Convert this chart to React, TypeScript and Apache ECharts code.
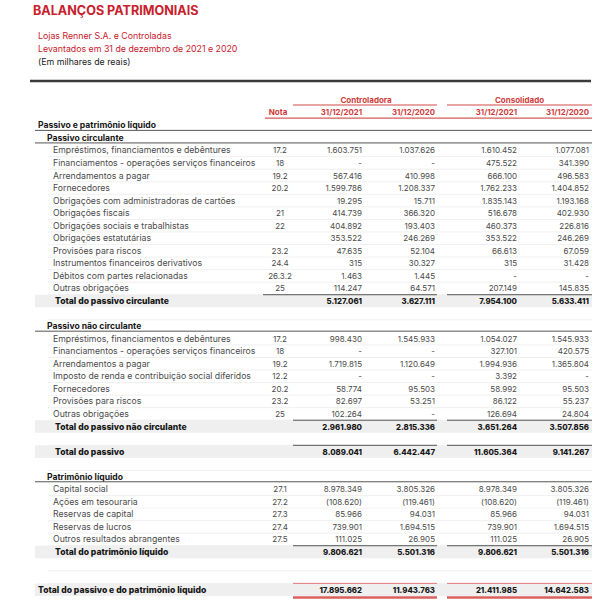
import React, { useEffect, useRef } from "react";
import * as echarts from "echarts";

// ---------- texts ----------
const title = "BALANÇOS PATRIMONIAIS";
const subtitleLines = ["Lojas Renner S.A. e Controladas", "Levantados em 31 de dezembro de 2021 e 2020"];
const unitNote = "(Em milhares de reais)";
const groupHeaders = ["Controladora", "Consolidado"];
const notaHeader = "Nota";
const dateHeaders = ["31/12/2021", "31/12/2020", "31/12/2021", "31/12/2020"];
const sectionTitle = "Passivo e patrimônio líquido";

// ---------- Passivo circulante ----------
const pcTitle = "Passivo circulante";
const pcLabels = [
  "Empréstimos, financiamentos e debêntures",
  "Financiamentos - operações serviços financeiros",
  "Arrendamentos a pagar",
  "Fornecedores",
  "Obrigações com administradoras de cartões",
  "Obrigações fiscais",
  "Obrigações sociais e trabalhistas",
  "Obrigações estatutárias",
  "Provisões para riscos",
  "Instrumentos financeiros derivativos",
  "Débitos com partes relacionadas",
  "Outras obrigações",
];
const pcNotas = ["17.2", "18", "19.2", "20.2", "", "21", "22", "", "23.2", "24.4", "26.3.2", "25"];
const pcCtrl2021 = [1603751, null, 567416, 1599786, 19295, 414739, 404892, 353522, 47635, 315, 1463, 114247];
const pcCtrl2020 = [1037626, null, 410998, 1208337, 15711, 366320, 193403, 246269, 52104, 30327, 1445, 64571];
const pcCons2021 = [1610452, 475522, 666100, 1762233, 1835143, 516678, 460373, 353522, 66613, 315, null, 207149];
const pcCons2020 = [1077081, 341390, 496583, 1404852, 1193168, 402930, 226816, 246269, 67059, 31428, null, 145835];
const pcTotalLabel = "Total do passivo circulante";
const pcTotal = [5127061, 3627111, 7954100, 5633411];

// ---------- Passivo não circulante ----------
const pncTitle = "Passivo não circulante";
const pncLabels = [
  "Empréstimos, financiamentos e debêntures",
  "Financiamentos - operações serviços financeiros",
  "Arrendamentos a pagar",
  "Imposto de renda e contribuição social diferidos",
  "Fornecedores",
  "Provisões para riscos",
  "Outras obrigações",
];
const pncNotas = ["17.2", "18", "19.2", "12.2", "20.2", "23.2", "25"];
const pncCtrl2021 = [998430, null, 1719815, null, 58774, 82697, 102264];
const pncCtrl2020 = [1545933, null, 1120649, null, 95503, 53251, null];
const pncCons2021 = [1054027, 327101, 1994936, 3392, 58992, 86122, 126694];
const pncCons2020 = [1545933, 420575, 1365804, null, 95503, 55237, 24804];
const pncTotalLabel = "Total do passivo não circulante";
const pncTotal = [2961980, 2815336, 3651264, 3507856];

const passivoTotalLabel = "Total do passivo";
const passivoTotal = [8089041, 6442447, 11605364, 9141267];

// ---------- Patrimônio líquido ----------
const plTitle = "Patrimônio líquido";
const plLabels = [
  "Capital social",
  "Ações em tesouraria",
  "Reservas de capital",
  "Reservas de lucros",
  "Outros resultados abrangentes",
];
const plNotas = ["27.1", "27.2", "27.3", "27.4", "27.5"];
const plCtrl2021 = [8978349, -108620, 85966, 739901, 111025];
const plCtrl2020 = [3805326, -119461, 94031, 1694515, 26905];
const plCons2021 = [8978349, -108620, 85966, 739901, 111025];
const plCons2020 = [3805326, -119461, 94031, 1694515, 26905];
const plTotalLabel = "Total do patrimônio líquido";
const plTotal = [9806621, 5501316, 9806621, 5501316];

const grandTotalLabel = "Total do passivo e do patrimônio líquido";
const grandTotal = [17895662, 11943763, 21411985, 14642583];

// ---------- helpers ----------
type Row = {
  kind: "section" | "sub" | "item" | "total" | "blank" | "grand";
  label?: string;
  nota?: string;
  vals?: (number | null)[];
  notaLine?: boolean;
};

function fmt(v: number | null): string {
  if (v === null) return "-";
  const s = String(Math.abs(v)).replace(/\B(?=(\d{3})+(?!\d))/g, ".");
  return v < 0 ? "(" + s + ")" : s;
}

function items(labels: string[], notas: string[], a: any[], b: any[], c: any[], d: any[]): Row[] {
  return labels.map((l, i) => ({ kind: "item", label: l, nota: notas[i], vals: [a[i], b[i], c[i], d[i]] }));
}

const rows: Row[] = [
  { kind: "section", label: sectionTitle },
  { kind: "sub", label: pcTitle },
  ...items(pcLabels, pcNotas, pcCtrl2021, pcCtrl2020, pcCons2021, pcCons2020),
  { kind: "total", label: pcTotalLabel, vals: pcTotal, notaLine: true },
  { kind: "blank" },
  { kind: "sub", label: pncTitle },
  ...items(pncLabels, pncNotas, pncCtrl2021, pncCtrl2020, pncCons2021, pncCons2020),
  { kind: "total", label: pncTotalLabel, vals: pncTotal },
  { kind: "blank" },
  { kind: "total", label: passivoTotalLabel, vals: passivoTotal },
  { kind: "blank" },
  { kind: "sub", label: plTitle },
  ...items(plLabels, plNotas, plCtrl2021, plCtrl2020, plCons2021, plCons2020),
  { kind: "total", label: plTotalLabel, vals: plTotal },
  { kind: "blank" },
  { kind: "blank" },
  { kind: "grand", label: grandTotalLabel, vals: grandTotal },
];

// ---------- layout ----------
const FONT = "Inter, 'Noto Sans', sans-serif";
const RED = "#c8202c";
const RED_H = "#cf3a3a";
const TXT = "#4a4a4a";
const BOLD_TXT = "#161616";
const LABEL_FONT = `8.7px ${FONT}`;
const NUM_FONT = `8px ${FONT}`;
const HEAD_FONT = `bold 8.6px ${FONT}`;
const TOTAL_FONT = `800 8.6px ${FONT}`;
const TOTAL_NUM_FONT = `800 7.8px ${FONT}`;
const colRight = [362, 435, 517, 589];
const notaCenter = 280;
const tableLeft = 35;
const tableRight = 592;
const segA: [number, number] = [293, 437];
const segB: [number, number] = [447, 592];

function txt(x: number, y: number, text: string, opts: any = {}) {
  return {
    type: "text",
    x,
    y,
    silent: true,
    style: {
      text,
      font: opts.font || NUM_FONT,
      fill: opts.fill || TXT,
      textAlign: opts.align || "left",
      textVerticalAlign: "middle",
      align: opts.align || "left",
      verticalAlign: "middle",
    },
  };
}
function hline(x1: number, x2: number, y: number, stroke: string, lw: number) {
  return { type: "line", silent: true, shape: { x1, y1: y, x2, y2: y }, style: { stroke, lineWidth: lw } };
}

export default function App() {
  const ref = useRef<HTMLDivElement>(null);
  useEffect(() => {
    if (!ref.current) return;
    const chart = echarts.init(ref.current, null, { renderer: "svg" });
    const bandH = 12.55;
    const firstCenter = 125.3;
    const gridTop = firstCenter - bandH / 2;

    const graphic: any[] = [
      txt(33, 10.5, title, { font: `bold 12.6px ${FONT}`, fill: RED }),
      txt(38, 35, subtitleLines[0], { font: `8.8px ${FONT}`, fill: RED }),
      txt(38, 48, subtitleLines[1], { font: `8.8px ${FONT}`, fill: RED }),
      txt(38, 61, unitNote, { font: `8.8px ${FONT}`, fill: "#222" }),
      hline(30, 591, 81, "#3a3a3a", 2.6),
      txt((segA[0] + segA[1]) / 2 + 1, 99.5, groupHeaders[0], { font: `bold 8px ${FONT}`, fill: RED_H, align: "center" }),
      txt((segB[0] + segB[1]) / 2, 99.5, groupHeaders[1], { font: `bold 8px ${FONT}`, fill: RED_H, align: "center" }),
      hline(segA[0], segA[1], 105, "#e08585", 1.3),
      hline(segB[0], segB[1], 105, "#e08585", 1.3),
      txt(notaCenter - 2, 112, notaHeader, { font: `bold 8px ${FONT}`, fill: RED_H, align: "center" }),
      ...dateHeaders.map((d, i) => txt(colRight[i], 112, d, { font: `bold 7.8px ${FONT}`, fill: RED_H, align: "right" })),
      hline(265, tableRight, 118.2, "#d85a5a", 1.3),
    ];

    const option: any = {
      animation: false,
      backgroundColor: "#ffffff",
      grid: { left: 0, right: 0, top: gridTop, height: bandH * rows.length, containLabel: false },
      xAxis: { type: "value", min: 0, max: 602, show: false },
      yAxis: { type: "category", inverse: true, data: rows.map((_, i) => String(i)), show: false },
      graphic,
      series: [
        {
          type: "custom",
          clip: false,
          silent: true,
          data: rows.map((_, i) => [0, i]),
          renderItem: (params: any, api: any) => {
            const i = params.dataIndex;
            const r = rows[i];
            const yc = api.coord([0, i])[1];
            const h = api.size([0, 1])[1];
            const top = yc - h / 2;
            const bot = yc + h / 2;
            const X = (v: number) => api.coord([v, i])[0];
            const ch: any[] = [];
            if (r.kind === "section") {
              ch.push(txt(X(38), yc, r.label!, { font: HEAD_FONT, fill: BOLD_TXT }));
              ch.push(hline(X(tableLeft), X(tableRight), bot - 1.2, "#555", 1));
            } else if (r.kind === "sub") {
              ch.push(txt(X(47), yc, r.label!, { font: HEAD_FONT, fill: BOLD_TXT }));
              ch.push(hline(X(tableLeft), X(tableRight), bot - 1.2, "#555", 1));
            } else if (r.kind === "item" || r.kind === "blank") {
              if (r.kind === "item") {
                ch.push(txt(X(53), yc, r.label!, { font: LABEL_FONT, fill: TXT }));
                ch.push(txt(X(notaCenter), yc, r.nota || "", { fill: TXT, align: "center" }));
                r.vals!.forEach((v, k) => ch.push(txt(X(colRight[k]), yc, fmt(v), { fill: TXT, align: "right" })));
              }
              ch.push(hline(X(48), X(tableRight), bot, "#ececec", 0.8));
            } else if (r.kind === "total") {
              ch.push({
                type: "rect",
                silent: true,
                shape: { x: X(tableLeft), y: top, width: X(tableRight) - X(tableLeft), height: h },
                style: { fill: "#efefef" },
              });
              ch.push(txt(X(55), yc + 0.3, r.label!, { font: TOTAL_FONT, fill: BOLD_TXT }));
              r.vals!.forEach((v, k) =>
                ch.push(txt(X(colRight[k]), yc + 0.3, fmt(v), { font: TOTAL_NUM_FONT, fill: BOLD_TXT, align: "right" }))
              );
              ch.push(hline(X(r.notaLine ? 263 : segA[0]), X(segA[1]), top, "#555", 1));
              ch.push(hline(X(segB[0]), X(segB[1]), top, "#555", 1));
            } else if (r.kind === "grand") {
              ch.push({
                type: "rect",
                silent: true,
                shape: { x: X(tableLeft), y: top, width: X(tableRight) - X(tableLeft), height: h },
                style: { fill: "#efefef" },
              });
              ch.push(txt(X(38), yc + 0.3, r.label!, { font: TOTAL_FONT, fill: BOLD_TXT }));
              r.vals!.forEach((v, k) =>
                ch.push(txt(X(colRight[k]), yc + 0.3, fmt(v), { font: TOTAL_NUM_FONT, fill: BOLD_TXT, align: "right" }))
              );
              ch.push(hline(X(segA[0]), X(segA[1]), top, "#e07a7a", 1));
              ch.push(hline(X(segB[0]), X(segB[1]), top, "#e07a7a", 1));
              ch.push(hline(X(segA[0]), X(segA[1]), bot + 1.6, "#d9605c", 2.6));
              ch.push(hline(X(segB[0]), X(segB[1]), bot + 1.6, "#d9605c", 2.6));
            }
            return { type: "group", children: ch };
          },
        },
      ],
    };
    chart.setOption(option);
    return () => chart.dispose();
  }, []);
  return (
    <div
      ref={ref}
      style={{ position: "absolute", left: 0, top: 0, width: 602, height: 615, background: "#fff" }}
    />
  );
}
